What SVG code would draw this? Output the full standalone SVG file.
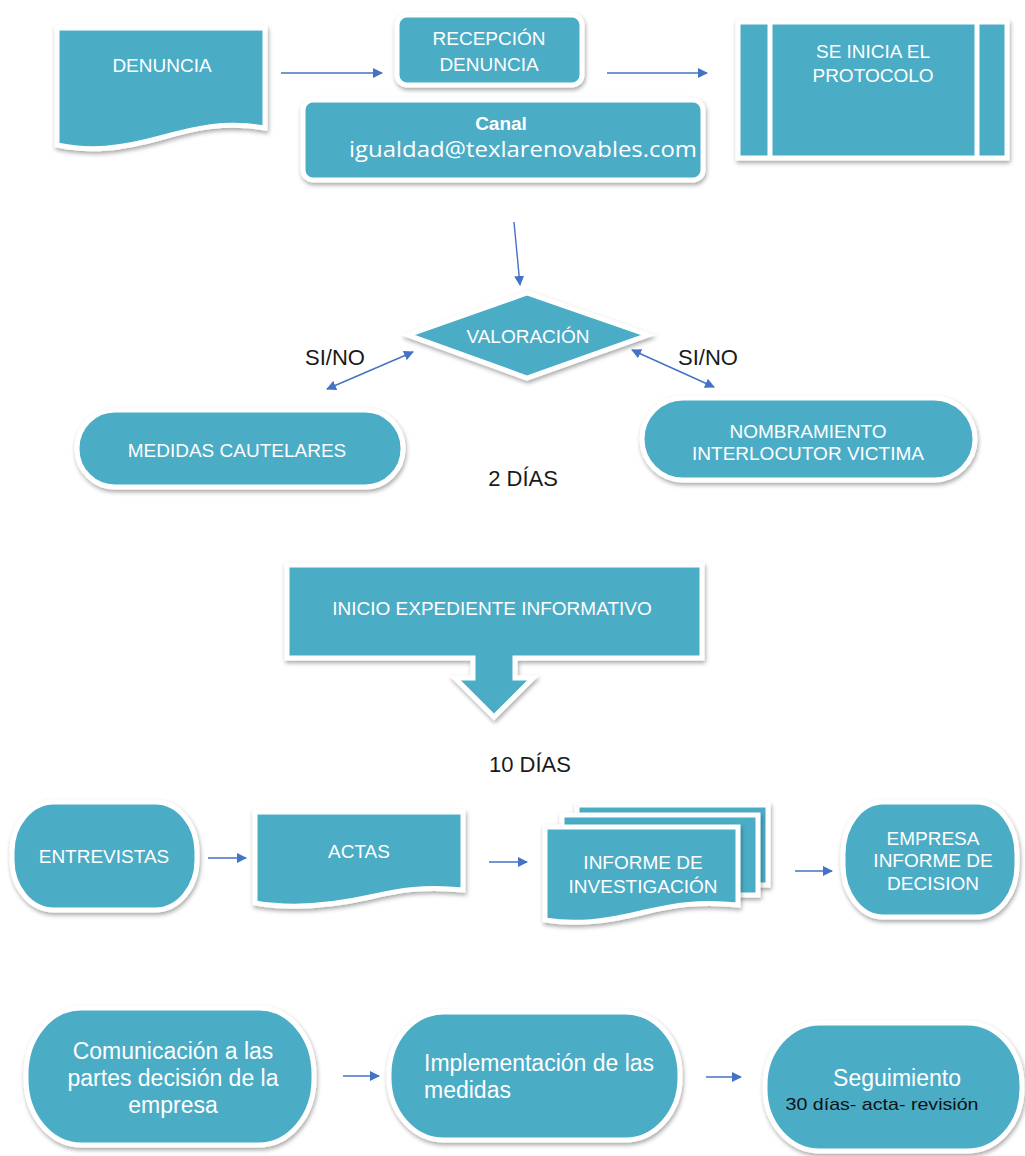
<svg xmlns="http://www.w3.org/2000/svg" width="1025" height="1156" viewBox="0 0 1025 1156">
<defs>
<filter id="sh" x="-10%" y="-10%" width="120%" height="130%">
<feDropShadow dx="1" dy="2.5" stdDeviation="2" flood-color="#000" flood-opacity="0.35"/>
</filter>
<marker id="ah" viewBox="0 0 10 10" refX="9" refY="5" markerWidth="10" markerHeight="10" markerUnits="userSpaceOnUse" orient="auto-start-reverse">
<path d="M0,0 L10,5 L0,10 Z" fill="#4472C4"/>
</marker>
<style>
.s{fill:#4BACC6;stroke:#fff;stroke-width:5;filter:url(#sh)}
.t{font-family:"Liberation Sans",Arial,sans-serif;font-size:19px;fill:#fff;text-anchor:middle}
.k{font-family:"Liberation Sans",Arial,sans-serif;font-size:22px;fill:#1a1a1a;text-anchor:middle}
.b{font-family:"Liberation Sans",Arial,sans-serif;font-size:23px;fill:#fff;text-anchor:middle}
.bl{font-family:"Liberation Sans",Arial,sans-serif;font-size:23px;fill:#fff;text-anchor:start}
.c line{stroke:#4472C4;stroke-width:1.4;fill:none}
</style>
</defs>
<rect width="1025" height="1156" fill="#fff"/>

<g id="denuncia">
<path class="s" d="M57,28 H265 V128 C225,121 195,128 160,138 C120,149 90,152 57,145 Z"/>
<text class="t" x="162" y="72">DENUNCIA</text>
</g>

<g id="recepcion">
<rect class="s" x="397" y="15" width="185" height="70" rx="10"/>
<text class="t" x="489" y="45">RECEPCIÓN</text>
<text class="t" x="489" y="71">DENUNCIA</text>
</g>

<g id="canal">
<rect class="s" x="303" y="100" width="400" height="80" rx="10"/>
<text class="t" x="501" y="130" font-weight="bold" font-size="18">Canal</text>
<text x="523" y="157" font-family="'Open Sans','Noto Sans',sans-serif" font-size="22" fill="#fff" text-anchor="middle" textLength="348" lengthAdjust="spacingAndGlyphs">igualdad@texlarenovables.com</text>
</g>

<g id="protocolo">
<rect class="s" x="738" y="22" width="269" height="136"/>
<line x1="770" y1="22" x2="770" y2="158" stroke="#fff" stroke-width="5"/>
<line x1="977" y1="22" x2="977" y2="158" stroke="#fff" stroke-width="5"/>
<text class="t" x="873" y="58">SE INICIA  EL</text>
<text class="t" x="873" y="82">PROTOCOLO</text>
</g>

<g id="valoracion">
<polygon class="s" points="408,335 527,293 648,335 527,378"/>
<text class="t" x="528" y="343">VALORACIÓN</text>
</g>

<g id="medidas">
<rect class="s" x="77" y="410" width="326" height="77" rx="38"/>
<text class="t" x="237" y="457">MEDIDAS CAUTELARES</text>
</g>

<g id="nombramiento">
<rect class="s" x="642" y="398" width="333" height="82" rx="41"/>
<text class="t" x="808" y="438">NOMBRAMIENTO</text>
<text class="t" x="808" y="460">INTERLOCUTOR VICTIMA</text>
</g>

<g id="expediente">
<path class="s" d="M287,565 H702 V658 H515 V678 H533 L494,717 L455,678 H473 V658 H287 Z"/>
<text class="t" x="492" y="615">INICIO EXPEDIENTE INFORMATIVO</text>
</g>

<g id="entrevistas">
<rect class="s" x="12" y="802" width="185" height="108" rx="42" ry="50"/>
<text class="t" x="104" y="863">ENTREVISTAS</text>
</g>

<g id="actas">
<path class="s" d="M255,812 H463 V890 C425,886 400,890 370,897 C330,906 290,909 255,903 Z"/>
<text class="t" x="359" y="858">ACTAS</text>
</g>

<g id="informe">
<rect class="s" x="577" y="805" width="191" height="80"/>
<rect class="s" x="562" y="815" width="196" height="80"/>
<path class="s" d="M545,827 H738 V905 C700,901 675,905 645,912 C605,922 575,925 545,920 Z"/>
<text class="t" x="643" y="869">INFORME DE</text>
<text class="t" x="643" y="893">INVESTIGACIÓN</text>
</g>

<g id="empresa">
<rect class="s" x="843" y="802" width="174" height="115" rx="40" ry="52"/>
<text class="t" x="933" y="845">EMPRESA</text>
<text class="t" x="933" y="867">INFORME DE</text>
<text class="t" x="933" y="890">DECISION</text>
</g>

<g id="comunicacion">
<rect class="s" x="26" y="1008" width="288" height="137" rx="55" ry="66"/>
<text class="b" x="173" y="1059">Comunicación a las</text>
<text class="b" x="173" y="1086">partes decisión de la</text>
<text class="b" x="173" y="1113">empresa</text>
</g>

<g id="implementacion">
<rect class="s" x="389" y="1012" width="291" height="128" rx="55" ry="62"/>
<text class="bl" x="424" y="1071">Implementación de las</text>
<text class="bl" x="424" y="1098">medidas</text>
</g>

<g id="seguimiento">
<rect class="s" x="765" y="1023" width="257" height="128" rx="55" ry="62"/>
<text class="b" x="897" y="1086">Seguimiento</text>
<text x="882" y="1110" font-family="'Liberation Sans',Arial,sans-serif" font-size="17" fill="#111" text-anchor="middle" textLength="193" lengthAdjust="spacingAndGlyphs">30 días- acta- revisión</text>
</g>

<g id="labels">
<text class="k" x="335" y="365">SI/NO</text>
<text class="k" x="708" y="365">SI/NO</text>
<text class="k" x="523" y="486">2 DÍAS</text>
<text class="k" x="530" y="772">10 DÍAS</text>
</g>

<g id="connectors" class="c">
<line x1="281" y1="73" x2="382" y2="73" marker-end="url(#ah)"/>
<line x1="607" y1="73" x2="707" y2="73" marker-end="url(#ah)"/>
<line x1="514" y1="222" x2="520" y2="285" marker-end="url(#ah)"/>
<line x1="327" y1="389" x2="413" y2="352" marker-start="url(#ah)" marker-end="url(#ah)"/>
<line x1="632" y1="350" x2="714" y2="387" marker-start="url(#ah)" marker-end="url(#ah)"/>
<line x1="208" y1="858" x2="246" y2="858" marker-end="url(#ah)"/>
<line x1="489" y1="862" x2="527" y2="862" marker-end="url(#ah)"/>
<line x1="795" y1="871" x2="832" y2="871" marker-end="url(#ah)"/>
<line x1="343" y1="1076" x2="379" y2="1076" marker-end="url(#ah)"/>
<line x1="706" y1="1077" x2="741" y2="1077" marker-end="url(#ah)"/>
</g>
</svg>
